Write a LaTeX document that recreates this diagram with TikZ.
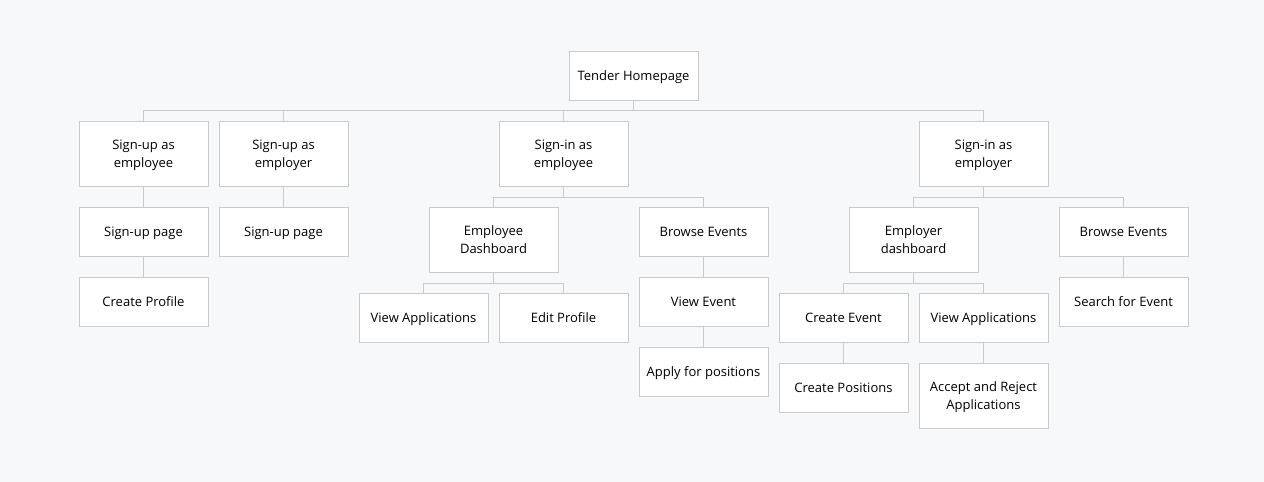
\documentclass[tikz,border=0pt]{standalone}
\usepackage{fontspec}
\setmainfont{Open Sans}
\usetikzlibrary{shadows}
\definecolor{bgpage}{HTML}{F7F8FA}
\definecolor{edge}{HTML}{CACACA}
\begin{document}
\begin{tikzpicture}[x=1pt,y=-1pt,
    box/.style={draw=edge,line width=1pt,fill=white,minimum width=129pt,
        minimum height=49pt,inner sep=0pt,align=center,text depth=-3pt,
        font=\fontsize{13}{18}\selectfont,
        drop shadow={opacity=0.08,shadow xshift=0.8pt,shadow yshift=-1.2pt}},
    tall/.style={box,minimum height=65pt},
    link/.style={draw=edge,line width=1pt}]
                \fill [bgpage] (0,0) rectangle (1264,482);
                \useasboundingbox (0,0) rectangle (1264,482);

                \node [box] (home) at (633.5,75.5) {Tender Homepage};

                \node [tall] (upee) at (143.5,153.5) {Sign-up as\\employee};
                \node [tall] (upor) at (283.5,153.5) {Sign-up as\\employer};
                \node [tall] (inee) at (563.5,153.5) {Sign-in as\\employee};
                \node [tall] (inor) at (983.5,153.5) {Sign-in as\\employer};

                \node [box] (upeepage) at (143.5,231.5) {Sign-up page};
                \node [box] (uporpage) at (283.5,231.5) {Sign-up page};
                \node [box] (profile) at (143.5,301.5) {Create Profile};

                \node [tall] (eedash) at (493.5,239.5) {Employee\\Dashboard};
                \node [box] (eebrowse) at (703.5,231.5) {Browse Events};
                \node [box] (eeapps) at (423.5,317.5) {View Applications};
                \node [box] (editprofile) at (563.5,317.5) {Edit Profile};
                \node [box] (viewevent) at (703.5,301.5) {View Event};
                \node [box] (apply) at (703.5,371.5) {Apply for positions};

                \node [tall] (ordash) at (913.5,239.5) {Employer\\dashboard};
                \node [box] (orbrowse) at (1123.5,231.5) {Browse Events};
                \node [box] (newevent) at (843.5,317.5) {Create Event};
                \node [box] (orapps) at (983.5,317.5) {View Applications};
                \node [box] (search) at (1123.5,301.5) {Search for Event};
                \node [box] (positions) at (843.5,387.5) {Create Positions};
                \node [tall] (decide) at (983.5,395.5) {Accept and Reject\\Applications};

                \foreach \child in {upee,upor,inee,inor}
                    \draw [link] (home.south) -- ++(0,10) -| (\child.north);
                \draw [link] (upee) -- (upeepage) -- (profile);
                \draw [link] (upor) -- (uporpage);

                \foreach \child in {eedash,eebrowse}
                    \draw [link] (inee.south) -- ++(0,10.5) -| (\child.north);
                \foreach \child in {eeapps,editprofile}
                    \draw [link] (eedash.south) -- ++(0,10.5) -| (\child.north);
                \draw [link] (eebrowse) -- (viewevent) -- (apply);

                \foreach \child in {ordash,orbrowse}
                    \draw [link] (inor.south) -- ++(0,10.5) -| (\child.north);
                \foreach \child in {newevent,orapps}
                    \draw [link] (ordash.south) -- ++(0,10.5) -| (\child.north);
                \draw [link] (orbrowse) -- (search);
                \draw [link] (newevent) -- (positions);
                \draw [link] (orapps) -- (decide);
            \end{tikzpicture}
\end{document}
